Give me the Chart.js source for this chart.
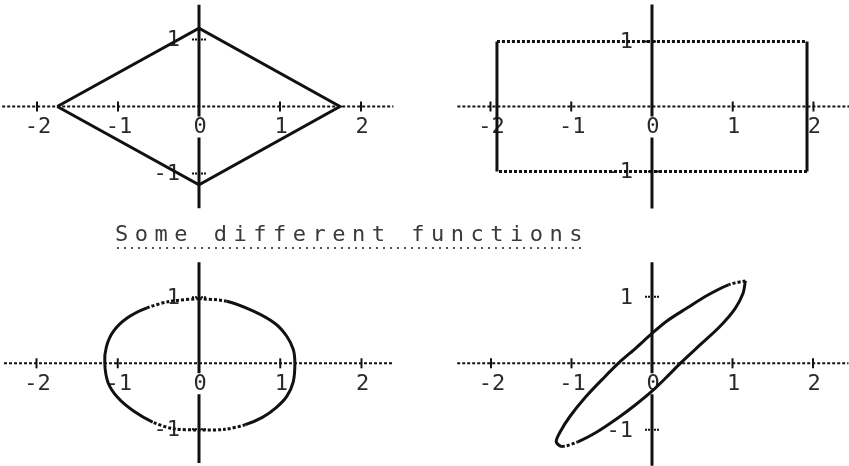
<!DOCTYPE html>
<html>
<head>
<meta charset="utf-8">
<script src="https://cdn.jsdelivr.net/npm/chart.js@4.4.1/dist/chart.umd.min.js"></script>
<style>
  html, body { margin: 0; padding: 0; background: #fff; }
  #wrap { position: relative; width: 849px; height: 466px; overflow: hidden; background: #fff; }
  #wrap canvas { position: absolute; }
  #title {
    position: absolute; left: 115px; top: 221px;
    font: 22px "DejaVu Sans Mono", monospace; letter-spacing: 6.5px;
    line-height: 26px; color: #3a3a3a; white-space: nowrap;
  }
  #rule {
    position: absolute; left: 117px; top: 247px; width: 466px; height: 2px;
    background: repeating-linear-gradient(to right, #555 0 2px, transparent 2px 7px);
  }
</style>
</head>
<body>
<div id="wrap">
  <canvas id="diamond" width="424" height="233" style="left:0;top:0"></canvas>
  <canvas id="rect" width="424" height="233" style="left:425px;top:0"></canvas>
  <canvas id="oval" width="424" height="233" style="left:0;top:233px"></canvas>
  <canvas id="tilted" width="424" height="233" style="left:425px;top:233px"></canvas>
  <div id="title"></div>
  <div id="rule"></div>
</div>
<script>
// Tick values shared by all four panels
const xTickValues = [-2, -1, 0, 1, 2];
const yTickValues = [-1, 1];
const titleText = 'Some different functions';

// Diamond
const diamondX = [-1.75, 0, 1.74, 0, -1.75];
const diamondY = [0, 1.17, 0, -1.17, 0];

// Rectangle
const rectX = [-1.92, 1.92, 1.92, -1.92, -1.92];
const rectY = [1, 1, -1, -1, 1];

// Oval
const ovalX = [0, 0.34, 0.67, 0.94, 1.08, 1.16, 1.18, 1.16, 1.08, 0.95, 0.78, 0.57, 0.32, 0,
               -0.32, -0.57, -0.81, -1.0, -1.12, -1.16, -1.14, -1.05, -0.88, -0.64, -0.35, 0];
const ovalY = [0.98, 0.94, 0.79, 0.60, 0.41, 0.21, 0, -0.28, -0.50, -0.67, -0.82, -0.93, -1.0, -1.01,
               -0.99, -0.89, -0.72, -0.52, -0.29, 0, 0.25, 0.49, 0.69, 0.84, 0.94, 0.98];

// Tilted loop
const tiltedX = [1.16, 0.95, 0.70, 0.42, 0.19, 0, -0.20, -0.40, -0.60, -0.82, -1.02, -1.14, -1.19,
                 -1.12, -0.92, -0.68, -0.42, -0.20, 0, 0.18, 0.36, 0.60, 0.84, 1.03, 1.13, 1.16];
const tiltedY = [1.24, 1.18, 1.03, 0.82, 0.64, 0.45, 0.23, 0.02, -0.22, -0.50, -0.80, -1.03, -1.18,
                 -1.25, -1.18, -1.03, -0.82, -0.62, -0.42, -0.21, 0.01, 0.28, 0.55, 0.82, 1.05, 1.24];

document.getElementById('title').textContent = titleText;

const fmt = v => (v < 0 ? '-' : '') + Math.abs(v);

// Axes that cross at the origin, with ticks straddling the lines
const crossAxes = {
  id: 'crossAxes',
  beforeDatasetsDraw(chart) {
    const { ctx, chartArea: a, scales: { x, y } } = chart;
    const x0 = x.getPixelForValue(0);
    const y0 = y.getPixelForValue(0);
    ctx.save();
    ctx.strokeStyle = '#111';

    // horizontal axis (dotted)
    ctx.lineWidth = 2;
    ctx.setLineDash([3, 2]);
    ctx.beginPath(); ctx.moveTo(a.left, y0); ctx.lineTo(a.right, y0); ctx.stroke();

    // x ticks
    ctx.setLineDash([]);
    ctx.lineWidth = 2;
    xTickValues.forEach(v => {
      const px = x.getPixelForValue(v);
      ctx.beginPath(); ctx.moveTo(px, y0 - 5); ctx.lineTo(px, y0 + 5); ctx.stroke();
    });

    // vertical axis, broken where the zero label sits
    ctx.lineWidth = 3;
    ctx.beginPath();
    ctx.moveTo(x0, a.top); ctx.lineTo(x0, y0 + 10);
    ctx.moveTo(x0, y0 + 31); ctx.lineTo(x0, a.bottom);
    ctx.stroke();

    // y ticks
    ctx.lineWidth = 2;
    ctx.setLineDash([2, 1]);
    yTickValues.forEach(v => {
      const py = y.getPixelForValue(v);
      ctx.beginPath(); ctx.moveTo(x0 - 7, py); ctx.lineTo(x0 + 7, py); ctx.stroke();
    });
    ctx.setLineDash([]);

    // tick labels
    ctx.font = '22px "DejaVu Sans Mono", monospace';
    ctx.fillStyle = '#2a2a2a';
    ctx.textBaseline = 'middle';
    ctx.textAlign = 'center';
    xTickValues.forEach(v => ctx.fillText(fmt(v), x.getPixelForValue(v) + 1, y0 + 21));
    ctx.textAlign = 'right';
    yTickValues.forEach(v => ctx.fillText(fmt(v), x0 - 19, y.getPixelForValue(v) + 1));
    ctx.restore();
  }
};

// near-horizontal segments print as a dotted trace
const stipple = c => {
  const dx = Math.abs(c.p1.x - c.p0.x), dy = Math.abs(c.p1.y - c.p0.y);
  return dy < dx * 0.35 ? [3, 2] : undefined;
};

function panel(id, xs, ys, geo, tension) {
  const canvas = document.getElementById(id);
  const w = canvas.width, h = canvas.height;
  const { ox, oy, cx, cy, ux, uy, xmin, xmax, ymin, ymax } = geo;
  const padding = {
    left: cx + xmin * ux - ox,
    right: w - (cx + xmax * ux - ox),
    top: cy - ymax * uy - oy,
    bottom: h - (cy - ymin * uy - oy)
  };
  return new Chart(canvas, {
    type: 'scatter',
    data: {
      datasets: [{
        data: xs.map((v, i) => ({ x: v, y: ys[i] })),
        showLine: true,
        borderColor: '#111',
        borderWidth: 3,
        pointRadius: 0,
        tension: tension,
        fill: false,
        clip: false,
        segment: { borderDash: stipple }
      }]
    },
    options: {
      responsive: false,
      animation: false,
      devicePixelRatio: 1,
      events: [],
      layout: { padding },
      plugins: { legend: { display: false }, tooltip: { enabled: false }, title: { display: false } },
      scales: {
        x: { type: 'linear', min: xmin, max: xmax, display: false },
        y: { type: 'linear', min: ymin, max: ymax, display: false }
      }
    },
    plugins: [crossAxes]
  });
}

panel('diamond', diamondX, diamondY,
  { ox: 0, oy: 0, cx: 199, cy: 106.5, ux: 81, uy: 67, xmin: -2.43, xmax: 2.4, ymin: -1.52, ymax: 1.52 }, 0);
panel('rect', rectX, rectY,
  { ox: 425, oy: 0, cx: 652, cy: 106.5, ux: 80.75, uy: 65, xmin: -2.41, xmax: 2.44, ymin: -1.57, ymax: 1.57 }, 0);
panel('oval', ovalX, ovalY,
  { ox: 0, oy: 233, cx: 199, cy: 363.3, ux: 81.25, uy: 66, xmin: -2.4, xmax: 2.4, ymin: -1.51, ymax: 1.53 }, 0.3);
panel('tilted', tiltedX, tiltedY,
  { ox: 425, oy: 233, cx: 652, cy: 363.3, ux: 80.5, uy: 66.5, xmin: -2.42, xmax: 2.44, ymin: -1.54, ymax: 1.52 }, 0.3);
</script>
</body>
</html>
